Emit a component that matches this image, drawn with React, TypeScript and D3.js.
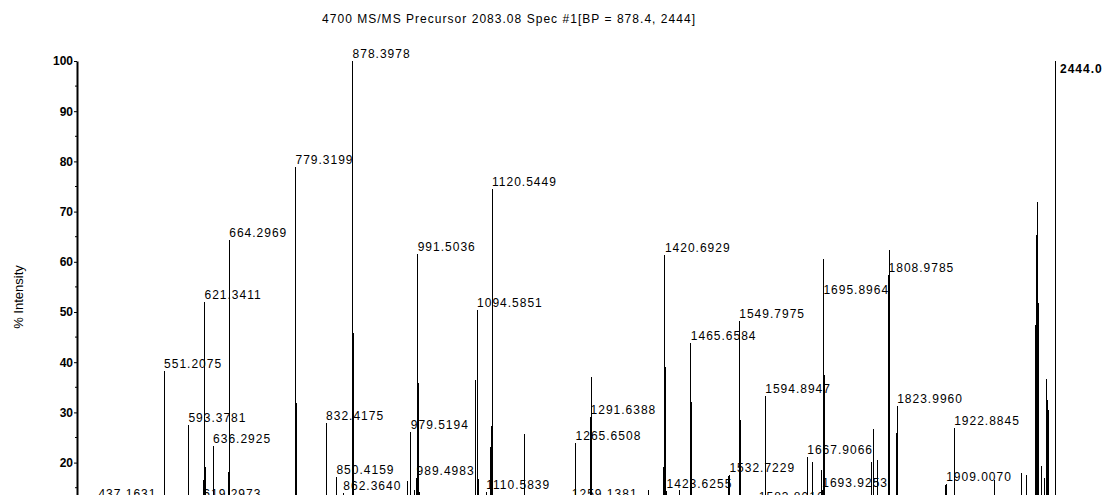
import React, { useEffect, useRef } from "react";
import * as d3 from "d3";

const title = "4700 MS/MS Precursor 2083.08 Spec #1[BP = 878.4, 2444]";
const yTitle = "% Intensity";
const maxCounts = "2444.0";
const mzRange = [400, 2098];
const intensityTicks = [0, 10, 20, 30, 40, 50, 60, 70, 80, 90, 100];
const minorTicks = [5, 15, 25, 35, 45, 55, 65, 75, 85, 95];

// labelled peaks: m/z and % intensity
const labelMz = [
  437.1631, 551.2075, 593.3781, 619.2973, 621.3411, 636.2925, 664.2969, 779.3199,
  832.4175, 850.4159, 862.364, 878.3978, 979.5194, 989.4983, 991.5036, 1094.5851,
  1110.5839, 1120.5449, 1259.1381, 1265.6508, 1291.6388, 1420.6929, 1423.6255,
  1465.6584, 1532.7229, 1549.7975, 1583.8016, 1594.8947, 1667.9066, 1693.9253,
  1695.8964, 1808.9785, 1823.996, 1909.007, 1922.8845,
];
const labelIntensity = [
  12.4, 38.2, 27.5, 12.4, 52.0, 23.4, 64.4, 78.9,
  27.8, 17.2, 13.9, 100, 26.0, 17.0, 61.6, 50.3,
  14.1, 74.5, 12.4, 24.0, 29.0, 61.3, 14.4,
  43.9, 17.6, 48.3, 11.8, 33.2, 21.2, 14.6,
  53.0, 57.4, 31.3, 15.8, 26.8,
];

// unlabelled peaks (isotopes, shoulders, precursor region)
const otherMz = [
  552.21, 620.3, 622.34, 663.3, 665.3, 780.32, 781.32, 879.4, 974.4, 985.6, 992.5,
  995.5, 1091.6, 1095.59, 1096.59, 1118.5, 1119.5, 1121.55, 1177.8, 1264.65,
  1292.64, 1392.0, 1418.0, 1421.69, 1446.9, 1466.66, 1530.8, 1550.8, 1551.8,
  1596.0, 1668.9, 1677.3, 1692.9, 1696.9, 1698.0, 1779.8, 1782.5, 1790.2,
  1809.98, 1810.98, 1822.9, 1825.0, 1907.6, 1923.9, 1993.8, 2039.0, 2048.9,
  2064.5, 2066.0, 2067.6, 2068.8, 2073.7, 2080.6, 2083.6, 2084.6, 2086.3, 2087.3,
];
const otherIntensity = [
  20.9, 16.6, 19.2, 18.2, 22.9, 31.8, 20.9, 45.8, 16.4, 14.6, 35.9,
  14.2, 36.5, 17.9, 16.7, 23.2, 27.2, 62.4, 25.6, 19.6,
  37.1, 14.6, 19.2, 39.1, 14.6, 32.1, 17.4, 32.9, 28.5,
  32.1, 17.6, 20.2, 18.5, 60.5, 37.5, 20.2, 26.6, 20.5,
  62.3, 28.2, 25.8, 20.2, 15.6, 25.5, 16.5, 17.9, 17.5,
  47.4, 65.3, 71.9, 51.8, 19.3, 17.0, 36.7, 32.5, 30.5, 21.5,
];

const font = "'Liberation Sans', Arial, sans-serif";

export default function App() {
  const width = 1104;
  const height = 495;
  const left = 77;
  const right = 1055;
  const top = 61;
  const zeroY = 563;

  const x = d3.scaleLinear().domain(mzRange).range([left, right]);
  const y = d3.scaleLinear().domain([0, 100]).range([zeroY, top]);

  const axisRef = useRef<SVGGElement>(null);

  useEffect(() => {
    const g = d3.select(axisRef.current);
    g.selectAll("*").remove();
    const axis = d3.axisLeft(y).tickValues(intensityTicks).tickSizeInner(3).tickSizeOuter(0).tickPadding(1);
    g.call(axis as any);
    g.select(".domain").attr("stroke-width", 2);
    g.selectAll(".tick text")
      .attr("font-family", font)
      .attr("font-size", 12)
      .attr("font-weight", "bold")
      .attr("fill", "#000");
    g.selectAll(".minor")
      .data(minorTicks)
      .enter()
      .append("line")
      .attr("class", "minor")
      .attr("x1", -2)
      .attr("x2", 0)
      .attr("y1", (d) => y(d))
      .attr("y2", (d) => y(d))
      .attr("stroke", "#000");
  }, []);

  const peaks = otherMz
    .map((m, i) => ({ m, v: otherIntensity[i] }))
    .concat(labelMz.map((m, i) => ({ m, v: labelIntensity[i] })));

  return (
    <svg
      width={width}
      height={height}
      style={{ position: "absolute", left: 0, top: 0, background: "#fff" }}
    >
      <text x={322} y={23} fontFamily={font} fontSize={12} textLength={373} lengthAdjust="spacing">
        {title}
      </text>
      <text
        transform={`translate(22.6,297) rotate(-90)`}
        textAnchor="middle"
        fontFamily={font}
        fontSize={13}
      >
        {yTitle}
      </text>
      <g>
        {peaks.map((p, i) => (
          <line
            key={i}
            x1={x(p.m)}
            x2={x(p.m)}
            y1={y(0)}
            y2={y(p.v)}
            stroke="#000"
            strokeWidth={1}
            shapeRendering="crispEdges"
          />
        ))}
      </g>
      <g fontFamily={font} fontSize={12} letterSpacing={1}>
        {labelMz.map((m, i) => (
          <text key={i} x={x(m)} y={y(labelIntensity[i]) - 3}>
            {m.toFixed(4)}
          </text>
        ))}
      </g>
      <g ref={axisRef} transform={`translate(${left},0)`} />
      <line x1={right} x2={right} y1={top} y2={height} stroke="#000" shapeRendering="crispEdges" />
      <text x={right + 5} y={72.5} fontFamily={font} fontSize={12} fontWeight="bold" letterSpacing={1}>
        {maxCounts}
      </text>
    </svg>
  );
}
